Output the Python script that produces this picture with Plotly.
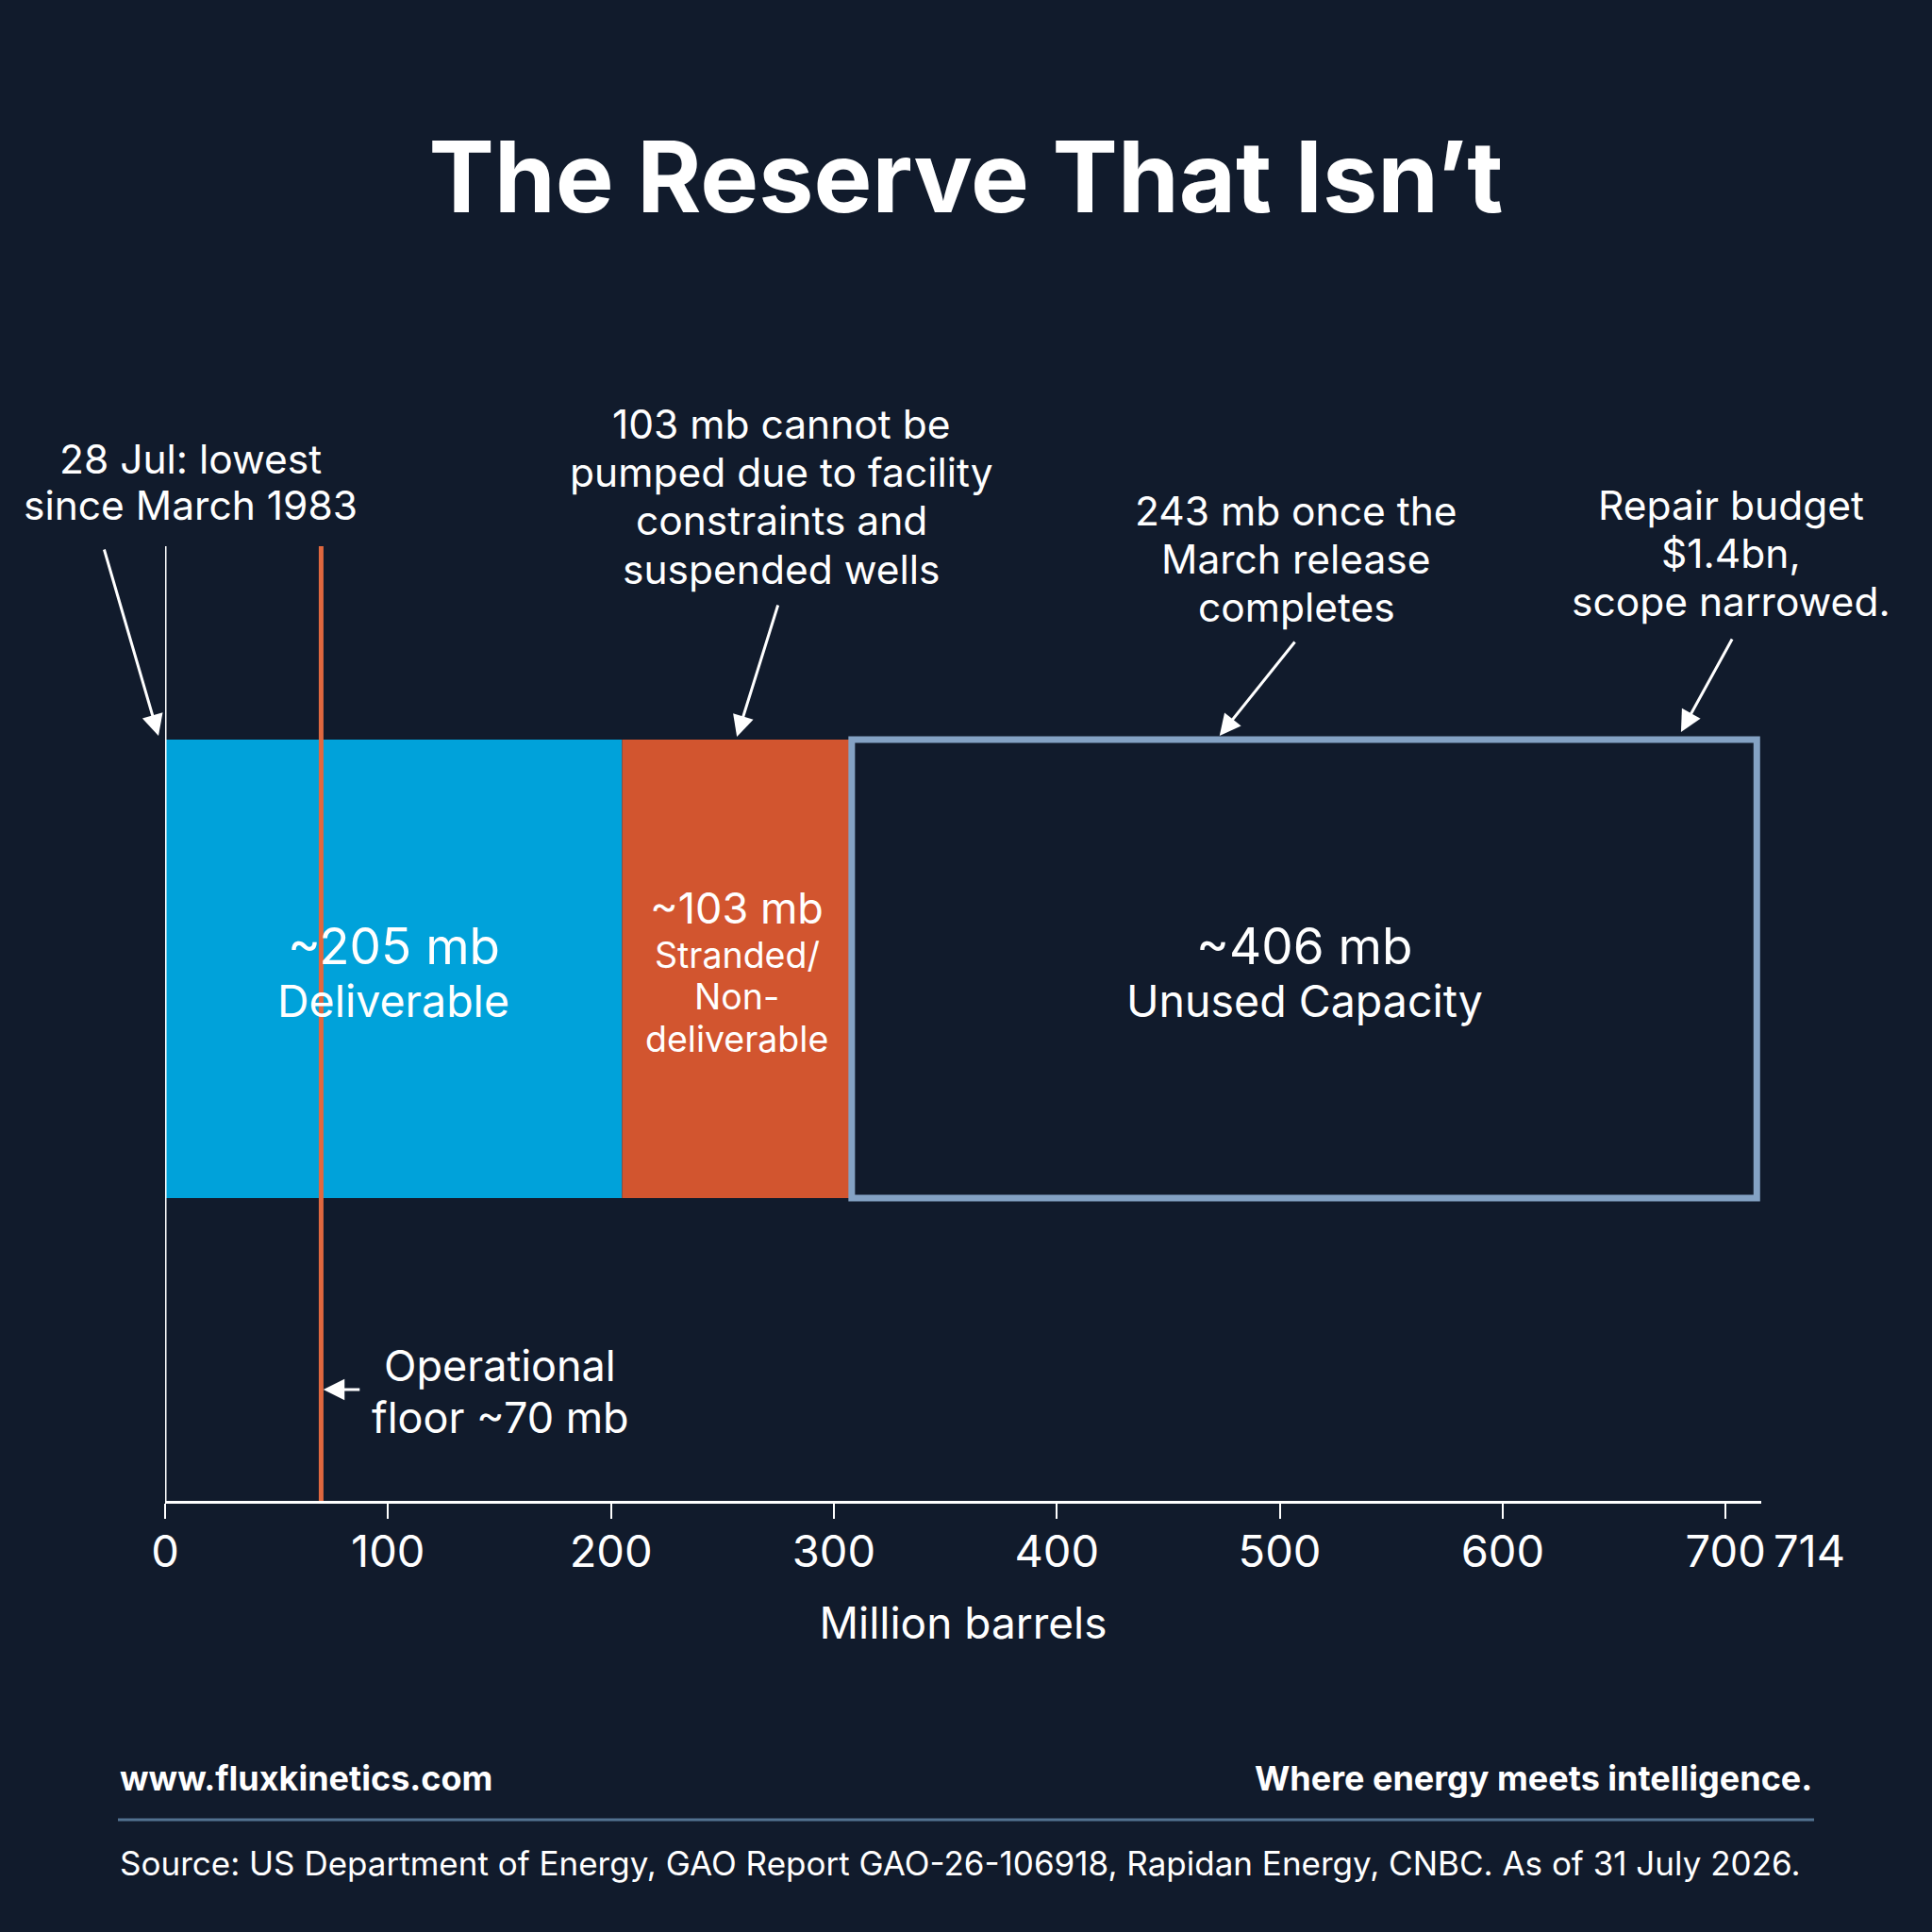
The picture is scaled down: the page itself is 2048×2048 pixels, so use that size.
import plotly.graph_objects as go

# ---------------- data ----------------
segment_names = ["Deliverable", "Stranded", "Unused"]
segment_values = [205, 103, 406]          # million barrels
segment_label_lines = [
    ["~205 mb", "Deliverable"],
    ["~103 mb", "Stranded/", "Non-", "deliverable"],
    ["~406 mb", "Unused Capacity"],
]
total_capacity = 714
operational_floor = 70
tick_values = [0, 100, 200, 300, 400, 500, 600, 700]
tick_labels = ["0", "100", "200", "300", "400", "500", "600", "700"]

callout_lines = [
    ["28 Jul: lowest", "since March 1983"],
    ["103 mb cannot be", "pumped due to facility", "constraints and", "suspended wells"],
    ["243 mb once the", "March release", "completes"],
    ["Repair budget", "$1.4bn,", "scope narrowed."],
]
floor_lines = ["Operational", "floor ~70 mb"]

# ---------------- style ----------------
BG = "#111B2C"
BLUE = "#00A2DA"
ORANGE = "#D2552F"
OUTLINE = "#84A2C4"
WHITE = "#FFFFFF"
FONT = "Inter"

W = H = 2048
AXIS_END = 716
L, R, T, B = 175, 181, 300, 457
PLOT_H = H - T - B


def ypx(p):
    """pixel row -> y data value (y axis set so value = H - pixel)."""
    return H - p


def ppy(p):
    """pixel row -> paper y"""
    return (H - B - p) / PLOT_H


def ppx(p):
    return (p - L) / (W - L - R)


bases = [0]
for v in segment_values[:-1]:
    bases.append(bases[-1] + v)
mids = [b + v / 2 for b, v in zip(bases, segment_values)]

BAR_Y = ypx(1027)
BAR_W = 486

fig = go.Figure()
fills = [BLUE, ORANGE, BG]
lines = [BLUE, ORANGE, OUTLINE]
lwid = [0, 0, 7]
for i in range(3):
    fig.add_trace(go.Bar(
        orientation="h",
        x=[segment_values[i]],
        base=[bases[i]],
        y=[BAR_Y],
        width=BAR_W,
        marker=dict(color=fills[i], line=dict(color=lines[i], width=lwid[i])),
        name=segment_names[i],
        hoverinfo="skip",
        showlegend=False,
    ))

# bar labels (one annotation per line for tight line spacing)
bar_line_rows = [
    [1003, 1060.5],
    [962.5, 1012, 1056.6, 1101],
    [1003, 1060.5],
]
bar_line_sizes = [
    [53, 46.5],
    [45, 37.5, 37.5, 37.5],
    [53, 46.5],
]
for i in range(3):
    for txt, row, sz in zip(segment_label_lines[i], bar_line_rows[i], bar_line_sizes[i]):
        fig.add_annotation(
            x=mids[i], y=ypx(row), xref="x", yref="y",
            text=txt, showarrow=False,
            font=dict(family=FONT, size=sz, color=WHITE),
            xanchor="center", yanchor="middle",
        )

shapes = []
# y "axis" white line and operational floor line
shapes.append(dict(type="line", xref="x", yref="y", x0=0, x1=0,
                   y0=ypx(1591), y1=ypx(579), line=dict(color=WHITE, width=3), layer="above"))
shapes.append(dict(type="line", xref="x", yref="y", x0=operational_floor, x1=operational_floor,
                   y0=ypx(1591), y1=ypx(579), line=dict(color="#E0683F", width=5), layer="above"))
# footer rule
shapes.append(dict(type="line", xref="paper", yref="paper", x0=ppx(125), x1=ppx(1923),
                   y0=ppy(1929), y1=ppy(1929), line=dict(color="#52718F", width=3)))
fig.update_layout(shapes=shapes)

ann_font = dict(family=FONT, size=42.5, color=WHITE)
callout_pos = [
    (202, [486, 535.5]),
    (828, [449, 500, 551.5, 603]),
    (1374, [541, 592, 643]),
    (1835, [535.5, 586.5, 637.5]),
]
for lines_, (cx, rows) in zip(callout_lines, callout_pos):
    for txt, row in zip(lines_, rows):
        fig.add_annotation(x=ppx(cx), y=ppy(row), xref="paper", yref="paper", text=txt,
                           showarrow=False, font=ann_font,
                           xanchor="center", yanchor="middle")

# arrows: (head x data, head pixel y, tail dx px, tail dy px, xshift)
arrow_specs = [
    (0, 780, -58, -199, -7),
    (mids[1], 781, 44, -141, 0),
    (473, 780, 81, -101, 0),
    (680, 776, 55, -100, 0),
    (operational_floor + 1, 1473, 40, 0, 0),
]
for hx, hy, dx, dy, xs in arrow_specs:
    fig.add_annotation(x=hx, y=ypx(hy), xref="x", yref="y", text="",
                       showarrow=True, ax=dx, ay=dy, axref="pixel", ayref="pixel",
                       arrowhead=2, arrowsize=1.5, arrowwidth=3, arrowcolor=WHITE,
                       xshift=xs)

# operational floor text
for txt, row in zip(floor_lines, [1447, 1502]):
    fig.add_annotation(x=ppx(530), y=ppy(row), xref="paper", yref="paper", text=txt,
                       showarrow=False, xanchor="center", yanchor="middle",
                       font=dict(family=FONT, size=45, color=WHITE))

# extra "714" label at end of axis
fig.add_annotation(x=total_capacity, y=ppy(1643), xref="x", yref="paper",
                   text=str(total_capacity), showarrow=False, xanchor="left", yanchor="middle",
                   xshift=16, font=dict(family=FONT, size=47, color=WHITE))

# footer
fig.add_annotation(x=ppx(125), y=ppy(1885), xref="paper", yref="paper",
                   text="<b>www.fluxkinetics.com</b>", showarrow=False,
                   xanchor="left", yanchor="middle",
                   font=dict(family=FONT, size=36, color=WHITE))
fig.add_annotation(x=ppx(1923), y=ppy(1885), xref="paper", yref="paper",
                   text="<b>Where energy meets intelligence.</b>", showarrow=False,
                   xanchor="right", yanchor="middle",
                   font=dict(family=FONT, size=36, color=WHITE))
fig.add_annotation(x=ppx(125), y=ppy(1975), xref="paper", yref="paper",
                   text="Source: US Department of Energy, GAO Report GAO-26-106918, Rapidan Energy, CNBC. As of 31 July 2026.",
                   showarrow=False, xanchor="left", yanchor="middle",
                   font=dict(family=FONT, size=35, color=WHITE))

fig.update_layout(
    width=W, height=H,
    paper_bgcolor=BG, plot_bgcolor=BG,
    margin=dict(l=L, r=R, t=T, b=B),
    barmode="overlay",
    title=dict(text="<b>The Reserve That Isn’t</b>", x=0.5, xref="container", xanchor="center",
               y=1 - 189 / H, yref="container", yanchor="middle",
               font=dict(family=FONT, size=104, color=WHITE)),
    xaxis=dict(range=[0, AXIS_END], tickvals=tick_values, ticktext=tick_labels,
               showgrid=False, zeroline=False, showline=True, linecolor=WHITE, linewidth=3,
               ticks="outside", ticklen=16, tickwidth=2, tickcolor=WHITE,
               ticklabelstandoff=-5,
               tickfont=dict(family=FONT, size=47, color=WHITE),
               title=dict(text="Million barrels", font=dict(family=FONT, size=46, color=WHITE),
                          standoff=34),
               fixedrange=True),
    yaxis=dict(range=[ypx(H - B), ypx(T)], showgrid=False, zeroline=False, showline=False,
               showticklabels=False, ticks="", fixedrange=True),
    font=dict(family=FONT, color=WHITE),
)

fig.write_html(
    "out.html",
    config={"displayModeBar": False},
    post_script="document.body.style.margin='0';document.body.style.background='#111B2C';",
)
